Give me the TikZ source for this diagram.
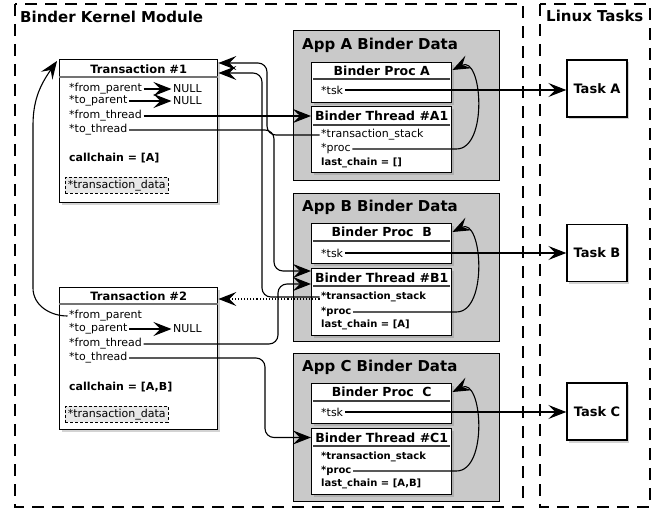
\documentclass[tikz,border=0pt]{standalone}
\usepackage{fontspec}
\setmainfont{DejaVu Sans}
\usetikzlibrary{positioning,shadows,arrows.meta}

\definecolor{appgray}{gray}{0.79}
\definecolor{datagray}{gray}{0.91}
\definecolor{sepgray}{gray}{0.45}

\newcommand{\sz}[1]{\fontsize{#1}{#1}\selectfont}

\tikzset{
	region/.style={draw, line width=1.6pt, dash pattern=on 12pt off 8pt},
	regiontitle/.style={anchor=base west, inner sep=0pt, font=\bfseries\sz{15}},
	appdata/.style={draw, line width=1.4pt, fill=appgray, anchor=north west, inner sep=0pt},
	record/.style={draw, line width=1.4pt, fill=white, anchor=north west, inner sep=0pt,
		drop shadow={shadow xshift=2pt, shadow yshift=-2.5pt, opacity=0.35}},
	task/.style={record, anchor=center, minimum width=60pt, minimum height=57pt, font=\bfseries\sz{13}},
	rectitle/.style={inner sep=0pt, font=\bfseries\sz{12.5}},
	sepline/.style={line width=1.1pt, draw=sepgray},
	field/.style={anchor=west, inner sep=1.5pt, font=\sz{11}},
	boldfield/.style={field, font=\bfseries\sz{10}},
	tdata/.style={anchor=north west, draw, densely dashed, line width=0.6pt, fill=datagray, inner sep=2.5pt, font=\sz{11}},
	ptr/.style={-{Stealth[length=18pt,width=14pt,inset=7pt]}, line width=1.1pt},
	route/.style={ptr, rounded corners=9pt},
}

\begin{document}
\begin{tikzpicture}[x=1pt,y=1pt]
	\useasboundingbox (0,0) rectangle (664,-510);

	% regions
	\draw[region] (15,-4) rectangle (523,-507);
	\draw[region] (540,-4) rectangle (650,-507);
	\node[regiontitle] (kernel) at (20,-23) {Binder Kernel Module};
	\node[regiontitle] (linux) at (546,-22) {Linux Tasks};

	% transactions
	\node[record, minimum width=158pt, minimum height=143pt] (t1) at (59,-59) {};
	\node[rectitle, font=\bfseries\sz{11.5}, below=5.5pt of t1.north] (t1title) {Transaction \#1};
	\draw[sepline] ([yshift=-18pt]t1.north west) -- ([yshift=-18pt]t1.north east);
	\node[field] (t1fp) at (67.5,-89) {*from\_parent};
	\node[field] (t1tp) at (67.5,-101) {*to\_parent};
	\node[field] (t1ft) at (67.5,-116) {*from\_thread};
	\node[field] (t1tt) at (67.5,-130) {*to\_thread};
	\node[field, font=\bfseries\sz{11}] (t1cc) at (67.5,-158) {callchain = [A]};
	\node[field] (t1fpnull) at (171.5,-89) {NULL};
	\node[field] (t1tpnull) at (171.5,-101) {NULL};
	\node[tdata] (t1data) at (65,-177) {*transaction\_data};

	\node[record, minimum width=158pt, minimum height=142pt] (t2) at (59,-287) {};
	\node[rectitle, font=\bfseries\sz{11.5}, below=5pt of t2.north] (t2title) {Transaction \#2};
	\draw[sepline] ([yshift=-17pt]t2.north west) -- ([yshift=-17pt]t2.north east);
	\node[field] (t2fp) at (67.5,-316) {*from\_parent};
	\node[field] (t2tp) at (67.5,-329) {*to\_parent};
	\node[field] (t2ft) at (67.5,-344) {*from\_thread};
	\node[field] (t2tt) at (67.5,-358) {*to\_thread};
	\node[field, font=\bfseries\sz{11}] (t2cc) at (67.5,-387) {callchain = [A,B]};
	\node[field] (t2tpnull) at (171.5,-329) {NULL};
	\node[tdata] (t2data) at (65,-406) {*transaction\_data};

	% app A
	\node[appdata, minimum width=206pt, minimum height=150pt] (appa) at (293,-30) {};
	\node[regiontitle] (appatitle) at (302,-50) {App A Binder Data};
	\node[record, minimum width=140pt, minimum height=40pt] (pa) at (311,-62) {};
	\node[rectitle, below=3.8pt of pa.north] (patitle) {Binder Proc A};
	\draw[sepline, draw=black!75] ([yshift=-17pt,xshift=2pt]pa.north west) -- ([yshift=-17pt,xshift=-2pt]pa.north east);
	\node[field] (atsk) at (319.5,-90) {*tsk};
	\node[record, minimum width=140pt, minimum height=66pt] (a1) at (311,-106) {};
	\node[rectitle, below=4.8pt of a1.north] (a1title) {Binder Thread \#A1};
	\draw[sepline, draw=black!75] ([yshift=-19pt,xshift=2pt]a1.north west) -- ([yshift=-19pt,xshift=-2pt]a1.north east);
	\node[field] (a1ts) at (319.5,-135) {*transaction\_stack};
	\node[field] (a1proc) at (319.5,-149) {*proc};
	\node[boldfield] (a1lc) at (319.5,-163) {last\_chain = []};

	% app B
	\node[appdata, minimum width=206pt, minimum height=148pt] (appb) at (293,-193) {};
	\node[regiontitle] (appbtitle) at (302,-212) {App B Binder Data};
	\node[record, minimum width=140pt, minimum height=40pt] (pb) at (311,-223) {};
	\node[rectitle, below=3.8pt of pb.north] (pbtitle) {Binder Proc\ \ B};
	\draw[sepline, draw=black!75] ([yshift=-18pt,xshift=2pt]pb.north west) -- ([yshift=-18pt,xshift=-2pt]pb.north east);
	\node[field] (btsk) at (319.5,-253) {*tsk};
	\node[record, minimum width=140pt, minimum height=67pt] (b1) at (311,-268) {};
	\node[rectitle, below=4.5pt of b1.north] (b1title) {Binder Thread \#B1};
	\draw[sepline, draw=black!75] ([yshift=-18pt,xshift=2pt]b1.north west) -- ([yshift=-18pt,xshift=-2pt]b1.north east);
	\node[boldfield] (b1ts) at (319.5,-297) {*transaction\_stack};
	\node[boldfield] (b1proc) at (319.5,-312) {*proc};
	\node[boldfield] (b1lc) at (319.5,-325) {last\_chain = [A]};

	% app C
	\node[appdata, minimum width=206pt, minimum height=148pt] (appc) at (293,-353) {};
	\node[regiontitle] (appctitle) at (302,-372) {App C Binder Data};
	\node[record, minimum width=140pt, minimum height=40pt] (pc) at (311,-383) {};
	\node[rectitle, below=3.8pt of pc.north] (pctitle) {Binder Proc\ \ C};
	\draw[sepline, draw=black!75] ([yshift=-18pt,xshift=2pt]pc.north west) -- ([yshift=-18pt,xshift=-2pt]pc.north east);
	\node[field] (ctsk) at (319.5,-412) {*tsk};
	\node[record, minimum width=140pt, minimum height=66pt] (c1) at (311,-428) {};
	\node[rectitle, below=4.5pt of c1.north] (c1title) {Binder Thread \#C1};
	\draw[sepline, draw=black!75] ([yshift=-18pt,xshift=2pt]c1.north west) -- ([yshift=-18pt,xshift=-2pt]c1.north east);
	\node[boldfield] (c1ts) at (319.5,-457) {*transaction\_stack};
	\node[boldfield] (c1proc) at (319.5,-471) {*proc};
	\node[boldfield] (c1lc) at (319.5,-484) {last\_chain = [A,B]};

	% tasks
	\node[task] (taska) at (597,-88.5) {Task A};
	\node[task] (taskb) at (597,-253) {Task B};
	\node[task] (taskc) at (597,-411.5) {Task C};

	% pointers
	\draw[ptr] (t1fp) -- (t1fpnull);
	\draw[ptr] (t1tp) -- (t1tpnull);
	\draw[ptr] (t2tp) -- (t2tpnull);
	\draw[ptr] (t1ft.east) -- (t1ft.east -| a1.west);
	\draw[route] (t1tt.east) -| (274,-200) |- ([yshift=-3pt]b1.north west);
	\draw[route] (a1ts.west) -| (267,-100) |- ([yshift=-4pt]t1.north east);
	\draw[route] (b1ts.west) -| (262,-200) |- ([yshift=-14pt]t1.north east);
	\draw[ptr, dotted] ([yshift=-2pt]b1ts.west) -- ([yshift=-2pt]b1ts.west -| t2.east);
	\draw[route] (t2ft.east) -| (278,-320) |- ([yshift=-16pt]b1.north west);
	\draw[route] (t2tt.east) -| (265,-400) |- ([yshift=-9.5pt]c1.north west);
	\draw[ptr] (t2fp.west) to[out=180,in=-90] (33,-288) -- (33,-125)
		to[out=90,in=-125] ([xshift=-2pt,yshift=-2pt]t1.north west);

	\draw[ptr] (atsk.east) -- (atsk.east -| taska.west);
	\draw[ptr] (btsk.east) -- (btsk.east -| taskb.west);
	\draw[ptr] (ctsk.east) -- (ctsk.east -| taskc.west);

	\draw[ptr] (a1proc.east) -- ([xshift=4pt]a1proc.east -| a1.east)
		.. controls +(32,0) and +(30,15) .. ([yshift=-8pt]pa.north east);
	\draw[ptr] (b1proc.east) -- ([xshift=4pt]b1proc.east -| b1.east)
		.. controls +(32,0) and +(30,15) .. ([yshift=-9pt]pb.north east);
	\draw[ptr] (c1proc.east) -- ([xshift=4pt]c1proc.east -| c1.east)
		.. controls +(32,0) and +(30,15) .. ([yshift=-9pt]pc.north east);
\end{tikzpicture}
\end{document}
